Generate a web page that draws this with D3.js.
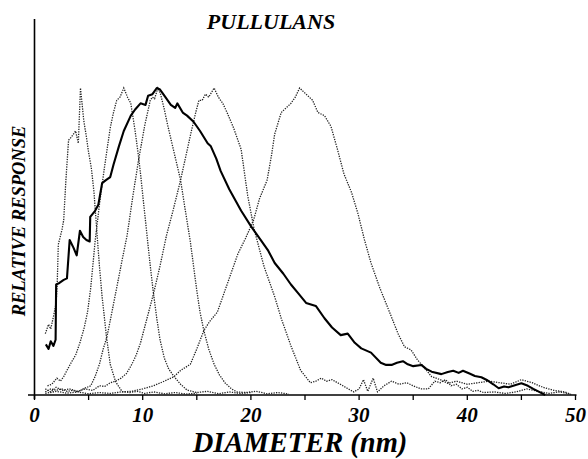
<!DOCTYPE html>
<html>
<head>
<meta charset="utf-8">
<script src="https://cdn.jsdelivr.net/npm/d3@7"></script>
<style>
  body { margin: 0; background: #fff; }
  text { font-family: "Liberation Serif", "Times New Roman", serif; font-weight: bold; font-style: italic; }
</style>
</head>
<body>
<svg width="588" height="459"></svg>
<script>
// data: [diameter nm, relative response]

var xTicks = [0, 10, 20, 30, 40, 50];
var xMinorTicks = [5, 15, 25, 35, 45];

var pullulanMix = [
  [1.05,0.165],[1.3,0.15],[1.5,0.175],[1.75,0.16],[1.95,0.18],[2.0,0.36],[2.3,0.365],[2.7,0.375],[3.0,0.38],
  [3.25,0.505],[3.6,0.48],[3.9,0.455],[4.2,0.535],[4.5,0.515],[4.8,0.505],[5.1,0.5],[5.15,0.58],[5.6,0.6],
  [5.9,0.62],[6.25,0.69],[6.6,0.7],[7.0,0.71],[7.3,0.75],[7.8,0.81],[8.25,0.86],[8.9,0.91],[9.3,0.93],
  [9.8,0.95],[10.26,0.945],[10.5,0.975],[10.9,0.98],[11.3,1.0],[11.6,0.995],[12.0,0.975],[12.6,0.945],
  [13.0,0.935],[13.2,0.95],[13.7,0.92],[14.1,0.91],[14.7,0.89],[15.3,0.86],[16.0,0.82],[16.3,0.81],
  [16.8,0.77],[17.2,0.73],[18.0,0.67],[19.1,0.6],[20.0,0.55],[20.9,0.505],[21.6,0.47],[22.2,0.43],
  [23.0,0.395],[23.7,0.36],[24.4,0.33],[25.1,0.3],[26.0,0.29],[26.8,0.25],[27.5,0.22],[28.3,0.195],
  [28.95,0.2],[29.6,0.17],[30.2,0.152],[31.1,0.138],[32.0,0.105],[32.5,0.098],[33.0,0.098],[33.5,0.105],
  [34.05,0.11],[34.5,0.1],[35.0,0.094],[35.75,0.098],[36.2,0.085],[36.7,0.076],[37.6,0.068],[38.2,0.075],
  [38.7,0.079],[39.2,0.072],[39.6,0.079],[40.2,0.07],[40.7,0.062],[41.3,0.058],[41.8,0.049],[42.4,0.035],
  [42.9,0.022],[43.4,0.028],[43.8,0.025],[44.4,0.032],[45.0,0.038],[45.6,0.03],[46.1,0.02],[46.6,0.011],[47.2,0.0]
];

var standardA = [
  [1.0,0.2],[1.3,0.23],[1.5,0.215],[1.75,0.255],[2.0,0.3],[2.1,0.36],[2.2,0.49],[2.55,0.54],[2.7,0.57],
  [2.9,0.7],[3.15,0.83],[3.4,0.84],[3.6,0.85],[3.8,0.86],[4.05,0.82],[4.25,1.0],[4.55,0.895],[4.8,0.84],
  [5.0,0.79],[5.25,0.74],[5.5,0.66],[5.8,0.515],[6.0,0.42],[6.25,0.32],[6.65,0.19],[7.0,0.1],[7.5,0.043],
  [8.1,0.011],[8.8,0.008],[9.5,0.012],[10.2,0.005],[11.0,0.01],[12.0,0.004],[13.0,0.008],[14.0,0.003],[15.0,0.006]
];

var standardB = [
  [1.2,0.03],[1.6,0.035],[2.07,0.055],[2.4,0.045],[2.7,0.06],[3.3,0.1],[3.8,0.13],[4.2,0.17],[4.6,0.22],
  [4.9,0.27],[5.2,0.35],[5.6,0.5],[6.0,0.62],[6.5,0.75],[7.0,0.87],[7.3,0.92],[7.6,0.96],[7.9,0.97],
  [8.25,1.0],[8.6,0.97],[8.9,0.95],[9.3,0.86],[9.64,0.77],[9.8,0.72],[10.1,0.62],[10.4,0.52],[10.7,0.42],
  [11.0,0.33],[11.3,0.25],[11.6,0.18],[12.0,0.12],[12.4,0.085],[12.9,0.06],[13.5,0.035],[14.1,0.016],
  [15.0,0.008],[16.0,0.012],[17.0,0.004],[18.0,0.01],[19.0,0.005],[20.0,0.008]
];

var standardC = [
  [1.0,0.01],[1.5,0.02],[2.0,0.015],[2.5,0.02],[3.0,0.012],[3.5,0.015],[4.0,0.01],[4.5,0.02],[5.2,0.03],
  [5.6,0.06],[6.0,0.1],[6.35,0.15],[6.7,0.19],[7.1,0.26],[7.6,0.35],[8.1,0.44],[8.56,0.52],[9.1,0.65],
  [9.64,0.77],[10.2,0.88],[10.7,0.96],[10.9,0.97],[11.1,0.965],[11.4,1.0],[11.65,0.98],[12.0,0.93],
  [12.3,0.88],[12.9,0.79],[13.5,0.7],[13.9,0.61],[14.4,0.5],[14.7,0.42],[15.0,0.34],[15.3,0.27],
  [15.65,0.21],[16.1,0.15],[16.6,0.1],[17.1,0.065],[17.6,0.04],[18.2,0.02],[18.7,0.01],[19.5,0.008],
  [20.5,0.012],[21.5,0.004],[22.5,0.008],[23.5,0.003]
];

var standardD = [
  [1.0,0.02],[1.5,0.01],[2.0,0.025],[2.6,0.015],[3.2,0.02],[4.0,0.012],[4.7,0.02],[5.4,0.015],[6.0,0.03],
  [6.5,0.028],[7.0,0.04],[7.5,0.045],[8.0,0.055],[8.5,0.07],[9.0,0.1],[9.4,0.13],[9.8,0.17],[10.4,0.25],
  [11.0,0.33],[11.6,0.42],[12.2,0.52],[12.8,0.6],[13.5,0.7],[14.0,0.78],[14.5,0.86],[14.9,0.92],
  [15.2,0.96],[15.5,0.96],[15.8,0.98],[16.1,0.97],[16.6,1.0],[17.0,0.97],[17.4,0.95],[17.8,0.92],
  [18.4,0.87],[19.1,0.8],[19.7,0.65],[20.3,0.54],[21.2,0.42],[22.2,0.32],[22.8,0.25],[23.7,0.16],
  [24.6,0.08],[25.5,0.04],[26.0,0.045],[26.5,0.055],[27.0,0.045],[27.5,0.05],[28.0,0.04],[28.5,0.03],
  [29.0,0.02],[29.5,0.01],[30.0,0.02],[30.4,0.05],[30.8,0.012],[31.3,0.055],[31.7,0.01],[32.3,0.03],
  [33.0,0.045],[33.7,0.035],[34.4,0.04],[35.0,0.03],[35.7,0.02],[36.4,0.02],[37.0,0.045],[37.5,0.04],
  [38.0,0.05],[38.5,0.03],[39.0,0.035],[39.5,0.02],[40.0,0.025],[40.5,0.012],[41.0,0.015],[41.5,0.008],
  [42.5,0.01],[43.5,0.005],[44.5,0.01],[45.5,0.02],[46.5,0.012],[47.5,0.005],[48.5,0.01],[49.5,0.003]
];

var standardE = [
  [1.0,0.005],[2.0,0.012],[3.0,0.006],[4.0,0.01],[5.0,0.004],[6.0,0.008],[7.0,0.005],[8.0,0.01],
  [9.0,0.012],[10.0,0.02],[11.0,0.03],[12.0,0.045],[12.9,0.06],[13.5,0.08],[14.4,0.1],[15.0,0.15],
  [15.65,0.21],[16.2,0.24],[16.9,0.27],[17.5,0.33],[18.2,0.4],[18.8,0.46],[19.5,0.51],[20.25,0.57],
  [20.8,0.64],[21.5,0.7],[21.9,0.78],[22.2,0.85],[22.8,0.92],[23.1,0.93],[23.7,0.95],[24.1,0.97],
  [24.5,1.0],[25.1,0.98],[25.7,0.96],[26.2,0.92],[26.8,0.91],[27.4,0.875],[28.0,0.8],[28.6,0.72],
  [29.3,0.66],[29.9,0.59],[30.5,0.505],[31.1,0.43],[31.9,0.35],[32.7,0.28],[33.6,0.2],[34.2,0.157],
  [34.8,0.147],[35.4,0.114],[36.0,0.09],[36.7,0.06],[37.5,0.05],[38.2,0.038],[39.0,0.045],[40.0,0.035],
  [41.0,0.04],[42.0,0.045],[43.0,0.04],[44.0,0.035],[45.0,0.05],[46.0,0.04],[47.0,0.025],[48.0,0.015],
  [49.0,0.01],[49.7,0.0]
];

var standards = [standardA, standardB, standardC, standardD, standardE];

var svg = d3.select("svg");

var x = d3.scaleLinear().domain([0, 50]).range([34.5, 575.5]);
var y = d3.scaleLinear().domain([0, 1]).range([395, 88]);

var line = d3.line()
  .x(function(d) { return x(d[0]); })
  .y(function(d) { return y(d[1]); });

//###############################################
// axes
//###############################################

svg.append("line")
  .attr("x1", x(0)).attr("x2", x(0))
  .attr("y1", 19).attr("y2", 399)
  .attr("stroke", "#000").attr("stroke-width", 1.6);

svg.append("line")
  .attr("x1", 28).attr("x2", x(50) + 1)
  .attr("y1", y(0)).attr("y2", y(0))
  .attr("stroke", "#000").attr("stroke-width", 1.6);

svg.append("g")
  .selectAll("line")
  .data(xTicks.concat(xMinorTicks))
  .enter().append("line")
    .attr("x1", function(d) { return x(d); })
    .attr("x2", function(d) { return x(d); })
    .attr("y1", y(0))
    .attr("y2", y(0) + 5)
    .attr("stroke", "#000")
    .attr("stroke-width", 1.3);

svg.append("g")
  .selectAll("text")
  .data(xTicks)
  .enter().append("text")
    .attr("x", function(d) { return x(d); })
    .attr("y", 422)
    .attr("text-anchor", "middle")
    .attr("font-size", 21)
    .text(function(d) { return d; });

svg.append("text")
  .attr("x", 300)
  .attr("y", 452)
  .attr("text-anchor", "middle")
  .attr("font-size", 28.5)
  .text("DIAMETER (nm)");

svg.append("text")
  .attr("transform", "translate(25,221) rotate(-90)")
  .attr("text-anchor", "middle")
  .attr("font-size", 18.5)
  .text("RELATIVE RESPONSE");

svg.append("text")
  .attr("x", 271)
  .attr("y", 29)
  .attr("text-anchor", "middle")
  .attr("font-size", 22)
  .text("PULLULANS");

//###############################################
// curves
//###############################################

svg.append("g")
  .selectAll("path")
  .data(standards)
  .enter().append("path")
    .attr("d", line)
    .attr("fill", "none")
    .attr("stroke", "#222")
    .attr("stroke-width", 1.3)
    .attr("stroke-dasharray", "1.3,1.2");

svg.append("path")
  .datum(pullulanMix)
  .attr("d", line)
  .attr("fill", "none")
  .attr("stroke", "#000")
  .attr("stroke-width", 2.1)
  .attr("stroke-linejoin", "round");
</script>
</body>
</html>
